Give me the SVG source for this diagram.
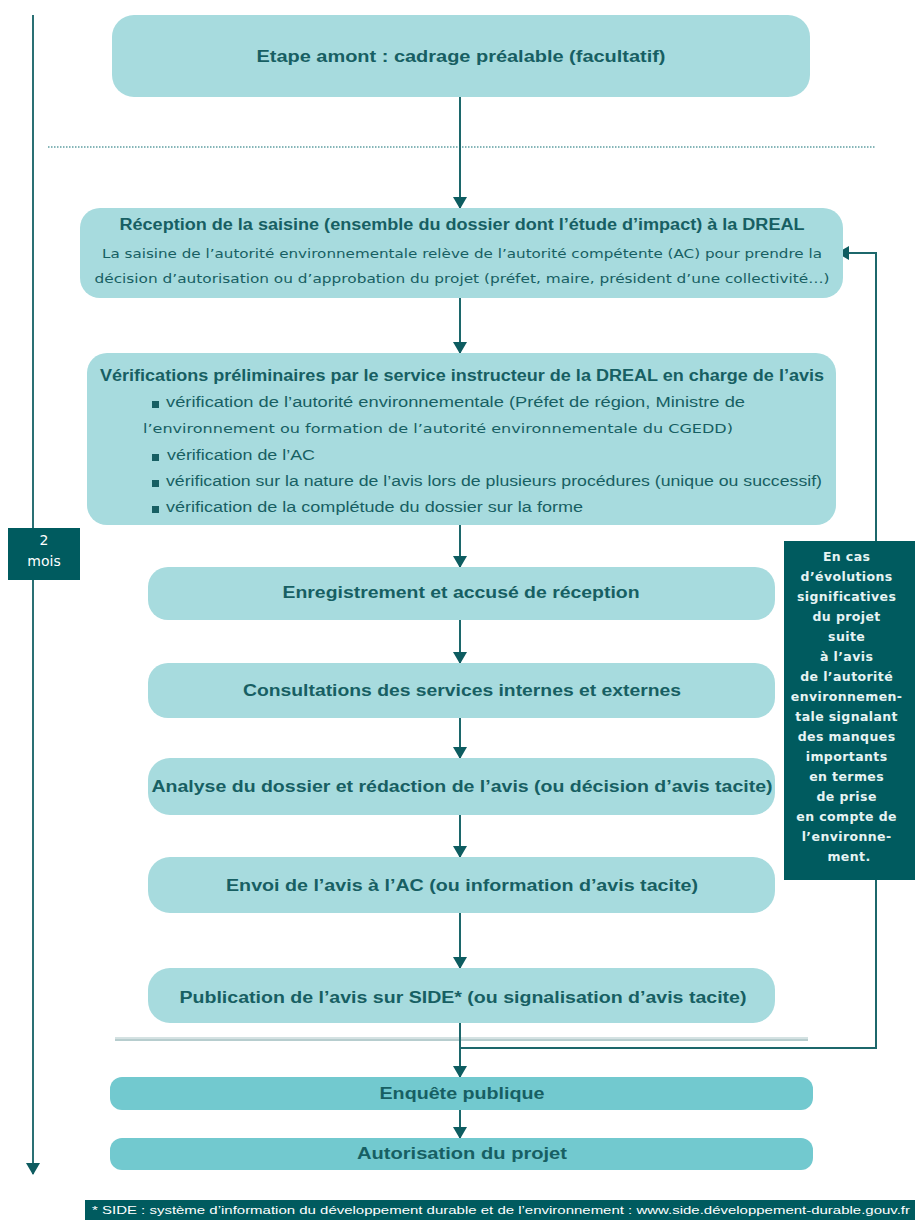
<svg xmlns="http://www.w3.org/2000/svg" width="915" height="1220" viewBox="0 0 915 1220">
  <defs>
    <marker id="arr" viewBox="0 0 12 14" refX="11" refY="7" markerWidth="12" markerHeight="14" markerUnits="userSpaceOnUse" orient="auto">
      <path d="M0,0 L12,7 L0,14 Z" fill="#0e5c60"/>
    </marker>
  </defs>
  <style>
    .box { fill: #a7dbde; }
    .box2 { fill: #72c9cf; }
    .dark { fill: #005b5f; }
    .t { font-family: "Liberation Sans", Arial, sans-serif; font-weight: bold; font-size: 16px; fill: #175f63; text-anchor: middle; }
    .s { font-family: "DejaVu Sans", sans-serif; font-size: 11.5px; fill: #175f63; text-anchor: middle; }
    .b { font-family: "Liberation Sans", Arial, sans-serif; font-size: 14px; fill: #175f63; }
    .bs { font-family: "DejaVu Sans", sans-serif; font-size: 11.5px; fill: #175f63; }
    .w { font-family: "DejaVu Sans", sans-serif; font-weight: bold; font-size: 12.5px; fill: #e6f3f3; text-anchor: middle; letter-spacing: 0.4px; }
    .wm { font-family: "DejaVu Sans", sans-serif; font-size: 14px; fill: #ffffff; text-anchor: middle; }
    .f { font-family: "Liberation Sans", Arial, sans-serif; font-size: 11px; fill: #ffffff; }
    .c { fill: none; stroke: #1c676b; stroke-width: 2; }
  </style>

  <!-- time axis on the left -->
  <g id="timeline">
    <line x1="33" y1="15" x2="33" y2="1174" stroke="#2a7074" stroke-width="2" marker-end="url(#arr)"/>
    <rect x="8" y="528" width="72" height="52" class="dark"/>
    <text x="44" y="545" class="wm">2</text>
    <text x="44" y="566" class="wm">mois</text>
  </g>

  <!-- separators -->
  <g id="separators">
    <line x1="48" y1="147" x2="876" y2="147" stroke="#5f9ea1" stroke-width="1.5" stroke-dasharray="1.5 1.5"/>
    <line x1="115" y1="1038" x2="808" y2="1038" stroke="#a9c4c5" stroke-width="1"/>
    <line x1="115" y1="1040" x2="808" y2="1040" stroke="#6f9b9d" stroke-width="1"/>
  </g>

  <!-- connectors -->
  <g id="connectors">
    <line x1="460" y1="97" x2="460" y2="208" class="c" marker-end="url(#arr)"/>
    <line x1="460" y1="298" x2="460" y2="353" class="c" marker-end="url(#arr)"/>
    <line x1="460" y1="525" x2="460" y2="567" class="c" marker-end="url(#arr)"/>
    <line x1="460" y1="620" x2="460" y2="663" class="c" marker-end="url(#arr)"/>
    <line x1="460" y1="718" x2="460" y2="758" class="c" marker-end="url(#arr)"/>
    <line x1="460" y1="815" x2="460" y2="857" class="c" marker-end="url(#arr)"/>
    <line x1="460" y1="913" x2="460" y2="968" class="c" marker-end="url(#arr)"/>
    <line x1="460" y1="1023" x2="460" y2="1077" class="c" marker-end="url(#arr)"/>
    <line x1="460" y1="1110" x2="460" y2="1138" class="c" marker-end="url(#arr)"/>
    <polyline points="460,1048 876,1048 876,253 838,253" class="c" marker-end="url(#arr)"/>
  </g>

  <g id="n1">
    <rect x="112" y="15" width="698" height="82" rx="22" class="box"/>
    <text x="461" y="62" class="t" textLength="409" lengthAdjust="spacingAndGlyphs">Etape amont : cadrage préalable (facultatif)</text>
  </g>

  <g id="n2">
    <rect x="80" y="208" width="763" height="90" rx="20" class="box"/>
    <text x="462" y="230" class="t" textLength="685" lengthAdjust="spacingAndGlyphs">Réception de la saisine (ensemble du dossier dont l’étude d’impact) à la DREAL</text>
    <text x="462" y="258" class="s" textLength="720" lengthAdjust="spacingAndGlyphs">La saisine de l’autorité environnementale relève de l’autorité compétente (AC) pour prendre la</text>
    <text x="462" y="283" class="s" textLength="735" lengthAdjust="spacingAndGlyphs">décision d’autorisation ou d’approbation du projet (préfet, maire, président d’une collectivité…)</text>
  </g>

  <g id="n3">
    <rect x="87" y="353" width="749" height="172" rx="20" class="box"/>
    <text x="462" y="381" class="t" textLength="724" lengthAdjust="spacingAndGlyphs">Vérifications préliminaires par le service instructeur de la DREAL en charge de l’avis</text>
    <rect x="152" y="401" width="7" height="7" fill="#175f63"/>
    <text x="166" y="407" class="b" textLength="579" lengthAdjust="spacingAndGlyphs">vérification de l’autorité environnementale (Préfet de région, Ministre de</text>
    <text x="143" y="433" class="bs" textLength="590" lengthAdjust="spacingAndGlyphs">l’environnement ou formation de l’autorité environnementale du CGEDD)</text>
    <rect x="152" y="454" width="7" height="7" fill="#175f63"/>
    <text x="167" y="460" class="b" textLength="148" lengthAdjust="spacingAndGlyphs">vérification de l’AC</text>
    <rect x="152" y="480" width="7" height="7" fill="#175f63"/>
    <text x="166" y="486" class="b" textLength="656" lengthAdjust="spacingAndGlyphs">vérification sur la nature de l’avis lors de plusieurs procédures (unique ou successif)</text>
    <rect x="152" y="506" width="7" height="7" fill="#175f63"/>
    <text x="166" y="512" class="b" textLength="417" lengthAdjust="spacingAndGlyphs">vérification de la complétude du dossier sur la forme</text>
  </g>

  <g id="n4">
    <rect x="148" y="567" width="627" height="53" rx="20" class="box"/>
    <text x="461" y="598" class="t" textLength="357" lengthAdjust="spacingAndGlyphs">Enregistrement et accusé de réception</text>
  </g>

  <g id="n5">
    <rect x="148" y="663" width="627" height="55" rx="20" class="box"/>
    <text x="462" y="696" class="t" textLength="438" lengthAdjust="spacingAndGlyphs">Consultations des services internes et externes</text>
  </g>

  <g id="n6">
    <rect x="148" y="758" width="627" height="57" rx="22" class="box"/>
    <text x="462" y="792" class="t" textLength="621" lengthAdjust="spacingAndGlyphs">Analyse du dossier et rédaction de l’avis (ou décision d’avis tacite)</text>
  </g>

  <g id="n7">
    <rect x="148" y="857" width="627" height="56" rx="22" class="box"/>
    <text x="462" y="891" class="t" textLength="472" lengthAdjust="spacingAndGlyphs">Envoi de l’avis à l’AC (ou information d’avis tacite)</text>
  </g>

  <g id="n8">
    <rect x="148" y="968" width="627" height="55" rx="22" class="box"/>
    <text x="463" y="1003" class="t" textLength="567" lengthAdjust="spacingAndGlyphs">Publication de l’avis sur SIDE* (ou signalisation d’avis tacite)</text>
  </g>

  <g id="n9">
    <rect x="110" y="1077" width="703" height="33" rx="12" class="box2"/>
    <text x="462" y="1099" class="t" textLength="165" lengthAdjust="spacingAndGlyphs">Enquête publique</text>
  </g>

  <g id="n10">
    <rect x="110" y="1138" width="703" height="32" rx="12" class="box2"/>
    <text x="462" y="1159" class="t" textLength="210" lengthAdjust="spacingAndGlyphs">Autorisation du projet</text>
  </g>

  <g id="n11">
    <rect x="784" y="541" width="131" height="339" class="dark"/>
    <text class="w">
      <tspan x="849" y="561">En cas</tspan>
      <tspan x="849" y="581">d’évolutions</tspan>
      <tspan x="849" y="601">significatives</tspan>
      <tspan x="849" y="621">du projet</tspan>
      <tspan x="849" y="641">suite</tspan>
      <tspan x="849" y="661">à l’avis</tspan>
      <tspan x="849" y="681">de l’autorité</tspan>
      <tspan x="849" y="701">environnemen-</tspan>
      <tspan x="849" y="721">tale signalant</tspan>
      <tspan x="849" y="741">des manques</tspan>
      <tspan x="849" y="761">importants</tspan>
      <tspan x="849" y="781">en termes</tspan>
      <tspan x="849" y="801">de prise</tspan>
      <tspan x="849" y="821">en compte de</tspan>
      <tspan x="849" y="841">l’environne-</tspan>
      <tspan x="849" y="861">ment.</tspan>
    </text>
  </g>

  <g id="footnote">
    <rect x="85" y="1200" width="830" height="20" class="dark"/>
    <text x="92" y="1214" class="f" textLength="818" lengthAdjust="spacingAndGlyphs">* SIDE : système d’information du développement durable et de l’environnement : www.side.développement-durable.gouv.fr</text>
  </g>
</svg>
